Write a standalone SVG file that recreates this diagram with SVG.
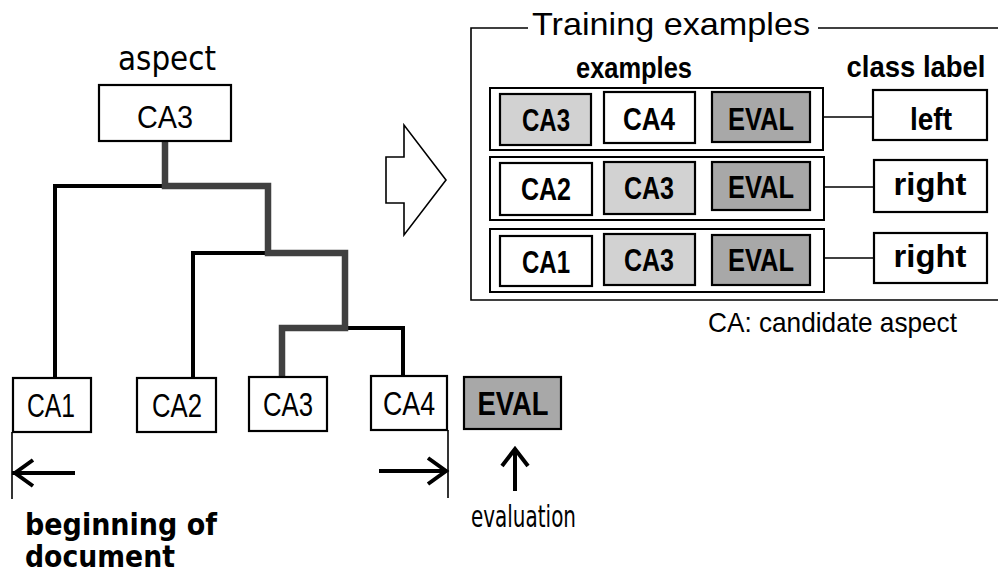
<svg xmlns="http://www.w3.org/2000/svg" width="998" height="573" viewBox="0 0 998 573">
  <style>
    .box { fill: #fff; stroke: #000; stroke-width: 2.2; }
    .lite { fill: #d2d2d2; stroke: #000; stroke-width: 2.2; }
    .dark { fill: #a8a8a8; stroke: #000; stroke-width: 2.2; }
    .row { fill: none; stroke: #000; stroke-width: 2; }
    .thin { fill: none; stroke: #000; stroke-width: 4; stroke-linecap: square; }
    .path { fill: none; stroke: #404040; stroke-width: 6.5; stroke-linejoin: miter; }
    .hair { fill: none; stroke: #000; stroke-width: 1.6; }
    .arr { fill: none; stroke: #000; stroke-width: 4; }
    .reg { font-family: "Liberation Sans", Arial, sans-serif; fill: #000; text-anchor: middle; }
    .bld { font-family: "Liberation Sans", Arial, sans-serif; font-weight: bold; fill: #000; text-anchor: middle; }
    .hum { font-family: "DejaVu Sans", Verdana, sans-serif; fill: #000; }
  </style>

  <!-- tree connectors -->
  <g id="connectors">
    <path class="thin" d="M55,375 V186 H165"/>
    <path class="thin" d="M193,377 V253 H268"/>
    <path class="thin" d="M403,376 V328 H345"/>
    <path class="path" d="M165,141 V186 H268 V253 H345 V328 H282 V376"/>
    <!-- row to class label links -->
    <path class="hair" d="M823,117 H873"/>
    <path class="hair" d="M824,187 H874"/>
    <path class="hair" d="M824,258 H874"/>
  </g>

  <!-- aspect node -->
  <g id="aspect">
    <text class="hum" x="167" y="70" font-size="34" text-anchor="middle" textLength="98" lengthAdjust="spacingAndGlyphs">aspect</text>
    <rect class="box" x="99" y="85" width="132" height="56"/>
    <text class="reg" x="165" y="128" font-size="31" textLength="56" lengthAdjust="spacingAndGlyphs">CA3</text>
  </g>

  <!-- candidate aspects along the document -->
  <g id="ca1">
    <rect class="box" x="13" y="378" width="78" height="54"/>
    <text class="reg" x="51" y="417" font-size="34" textLength="48" lengthAdjust="spacingAndGlyphs">CA1</text>
  </g>
  <g id="ca2">
    <rect class="box" x="137" y="378" width="79" height="54"/>
    <text class="reg" x="177" y="417" font-size="34" textLength="50" lengthAdjust="spacingAndGlyphs">CA2</text>
  </g>
  <g id="ca3">
    <rect class="box" x="249" y="377" width="78" height="54"/>
    <text class="reg" x="288" y="416" font-size="34" textLength="50" lengthAdjust="spacingAndGlyphs">CA3</text>
  </g>
  <g id="ca4">
    <rect class="box" x="371" y="376" width="76" height="54"/>
    <text class="reg" x="409" y="415" font-size="34" textLength="52" lengthAdjust="spacingAndGlyphs">CA4</text>
  </g>
  <g id="eval">
    <rect class="dark" x="464" y="377" width="97" height="52" stroke-width="3"/>
    <text class="bld" x="513" y="415" font-size="33" textLength="71" lengthAdjust="spacingAndGlyphs">EVAL</text>
  </g>

  <!-- document boundaries -->
  <g id="begin">
    <path class="hair" d="M12,432 V499"/>
    <path class="arr" d="M12,473 H75 M33,460 L15,473 L33,486"/>
    <text class="hum" x="25" y="535" font-size="30" font-weight="bold" textLength="192" lengthAdjust="spacingAndGlyphs">beginning of</text>
    <text class="hum" x="25" y="567" font-size="30" font-weight="bold" textLength="150" lengthAdjust="spacingAndGlyphs">document</text>
  </g>
  <g id="end">
    <path class="hair" d="M448,430 V498"/>
    <path class="arr" d="M379,471 H445 M428,458 L446,471 L428,484"/>
  </g>
  <g id="evaluation">
    <path class="arr" d="M515,491 V449 M502,466 L515,449 L528,466"/>
    <text class="hum" x="471" y="527" font-size="31" textLength="105" lengthAdjust="spacingAndGlyphs">evaluation</text>
  </g>

  <!-- block arrow -->
  <g id="transform-arrow">
    <polygon points="386,157 404,157 404,125 446,180 404,235 404,203 386,203" fill="#fff" stroke="#000" stroke-width="1.6" stroke-linejoin="miter"/>
  </g>

  <!-- training examples panel -->
  <g id="training">
    <path class="hair" d="M528,28 H471 V300 H998"/>
    <path class="hair" d="M818,28 H998"/>
    <text x="532" y="35" font-family="Liberation Sans, Arial, sans-serif" font-size="32" textLength="278" lengthAdjust="spacingAndGlyphs">Training examples</text>
    <text class="bld" x="634" y="78" font-size="30" textLength="116" lengthAdjust="spacingAndGlyphs">examples</text>
    <text class="bld" x="916" y="77" font-size="30" textLength="139" lengthAdjust="spacingAndGlyphs">class label</text>
  </g>

  <g id="row1">
    <rect class="row" x="490" y="88" width="333" height="62"/>
    <rect class="lite" x="500" y="94" width="91" height="51"/>
    <text class="bld" x="546" y="131" font-size="31" textLength="48" lengthAdjust="spacingAndGlyphs">CA3</text>
    <rect class="box" x="604" y="92" width="91" height="51"/>
    <text class="bld" x="649" y="130" font-size="31" textLength="52" lengthAdjust="spacingAndGlyphs">CA4</text>
    <rect class="dark" x="712" y="92" width="98" height="50"/>
    <text class="bld" x="761" y="130" font-size="31" textLength="66" lengthAdjust="spacingAndGlyphs">EVAL</text>
  </g>
  <g id="label1">
    <rect class="box" x="873" y="90" width="114" height="50"/>
    <text class="bld" x="931" y="130" font-size="31" textLength="42" lengthAdjust="spacingAndGlyphs">left</text>
  </g>

  <g id="row2">
    <rect class="row" x="490" y="157" width="334" height="63"/>
    <rect class="box" x="500" y="163" width="92" height="52"/>
    <text class="bld" x="546" y="200" font-size="31" textLength="50" lengthAdjust="spacingAndGlyphs">CA2</text>
    <rect class="lite" x="604" y="162" width="91" height="52"/>
    <text class="bld" x="649" y="199" font-size="31" textLength="50" lengthAdjust="spacingAndGlyphs">CA3</text>
    <rect class="dark" x="712" y="162" width="98" height="48"/>
    <text class="bld" x="761" y="198" font-size="31" textLength="66" lengthAdjust="spacingAndGlyphs">EVAL</text>
  </g>
  <g id="label2">
    <rect class="box" x="874" y="160" width="113" height="52"/>
    <text class="bld" x="930" y="195" font-size="31" textLength="73" lengthAdjust="spacingAndGlyphs">right</text>
  </g>

  <g id="row3">
    <rect class="row" x="490" y="229" width="334" height="63"/>
    <rect class="box" x="500" y="236" width="92" height="50"/>
    <text class="bld" x="546" y="273" font-size="31" textLength="48" lengthAdjust="spacingAndGlyphs">CA1</text>
    <rect class="lite" x="604" y="234" width="91" height="51"/>
    <text class="bld" x="649" y="271" font-size="31" textLength="50" lengthAdjust="spacingAndGlyphs">CA3</text>
    <rect class="dark" x="712" y="235" width="98" height="50"/>
    <text class="bld" x="761" y="271" font-size="31" textLength="66" lengthAdjust="spacingAndGlyphs">EVAL</text>
  </g>
  <g id="label3">
    <rect class="box" x="874" y="233" width="113" height="50"/>
    <text class="bld" x="930" y="267" font-size="31" textLength="73" lengthAdjust="spacingAndGlyphs">right</text>
  </g>

  <g id="legend">
    <text x="708" y="332" font-family="Liberation Sans, Arial, sans-serif" font-size="28" textLength="249" lengthAdjust="spacingAndGlyphs">CA: candidate aspect</text>
  </g>
</svg>
